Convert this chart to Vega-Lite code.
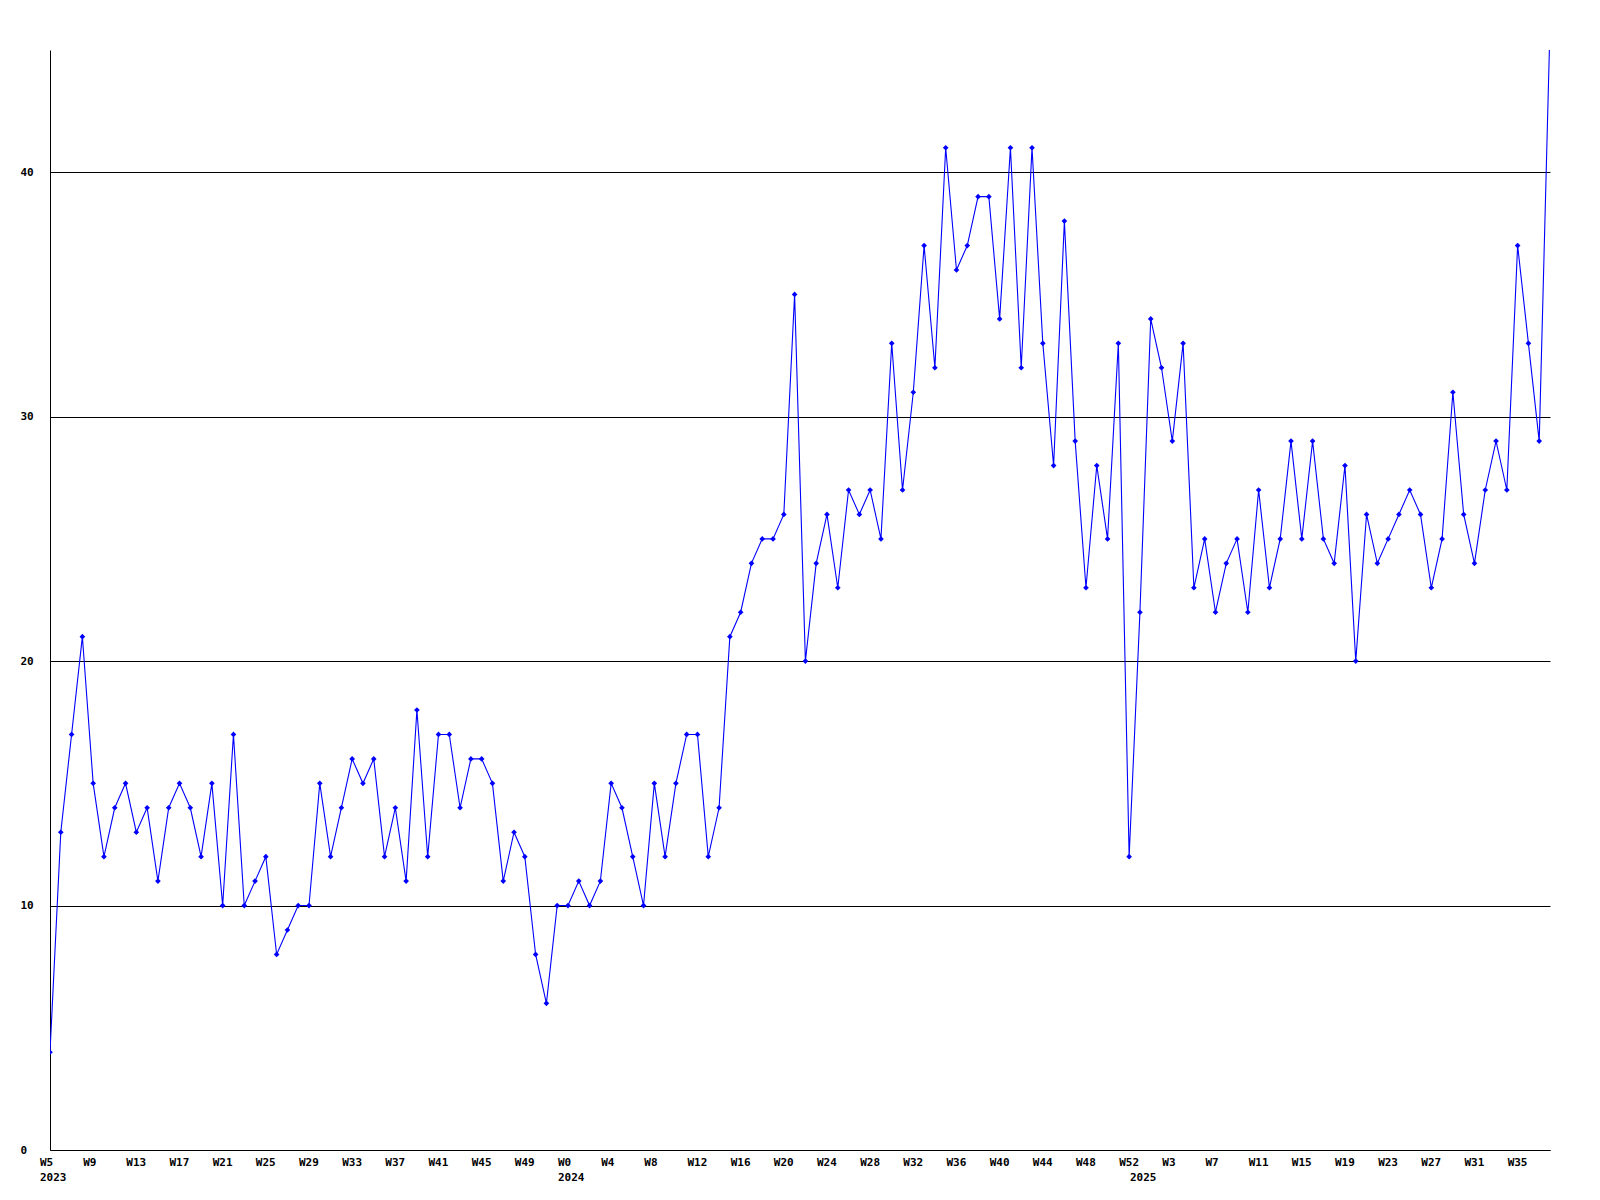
{
  "$schema": "https://vega.github.io/schema/vega-lite/v6.json",
  "width": 1500,
  "height": 1100,
  "autosize": {"type": "none"},
  "padding": {"left": 50, "top": 50, "right": 50, "bottom": 50},
  "background": "white",
  "config": {
    "view": {"stroke": null},
    "axis": {
      "labelFont": "DejaVu Sans Mono",
      "labelFontWeight": "bold",
      "labelFontSize": 11,
      "labelColor": "black",
      "domainColor": "black",
      "domainWidth": 1,
      "gridColor": "black",
      "gridOpacity": 1,
      "gridWidth": 1,
      "ticks": false,
      "tickSize": 0,
      "title": null
    }
  },
  "data": {
    "values": [
      {"week": "2023-W05", "count": 4}, {"week": "2023-W06", "count": 13}, {"week": "2023-W07", "count": 17}, {"week": "2023-W08", "count": 21},
      {"week": "2023-W09", "count": 15}, {"week": "2023-W10", "count": 12}, {"week": "2023-W11", "count": 14}, {"week": "2023-W12", "count": 15},
      {"week": "2023-W13", "count": 13}, {"week": "2023-W14", "count": 14}, {"week": "2023-W15", "count": 11}, {"week": "2023-W16", "count": 14},
      {"week": "2023-W17", "count": 15}, {"week": "2023-W18", "count": 14}, {"week": "2023-W19", "count": 12}, {"week": "2023-W20", "count": 15},
      {"week": "2023-W21", "count": 10}, {"week": "2023-W22", "count": 17}, {"week": "2023-W23", "count": 10}, {"week": "2023-W24", "count": 11},
      {"week": "2023-W25", "count": 12}, {"week": "2023-W26", "count": 8}, {"week": "2023-W27", "count": 9}, {"week": "2023-W28", "count": 10},
      {"week": "2023-W29", "count": 10}, {"week": "2023-W30", "count": 15}, {"week": "2023-W31", "count": 12}, {"week": "2023-W32", "count": 14},
      {"week": "2023-W33", "count": 16}, {"week": "2023-W34", "count": 15}, {"week": "2023-W35", "count": 16}, {"week": "2023-W36", "count": 12},
      {"week": "2023-W37", "count": 14}, {"week": "2023-W38", "count": 11}, {"week": "2023-W39", "count": 18}, {"week": "2023-W40", "count": 12},
      {"week": "2023-W41", "count": 17}, {"week": "2023-W42", "count": 17}, {"week": "2023-W43", "count": 14}, {"week": "2023-W44", "count": 16},
      {"week": "2023-W45", "count": 16}, {"week": "2023-W46", "count": 15}, {"week": "2023-W47", "count": 11}, {"week": "2023-W48", "count": 13},
      {"week": "2023-W49", "count": 12}, {"week": "2023-W50", "count": 8}, {"week": "2023-W51", "count": 6}, {"week": "2023-W52", "count": 10},
      {"week": "2024-W00", "count": 10}, {"week": "2024-W01", "count": 11}, {"week": "2024-W02", "count": 10}, {"week": "2024-W03", "count": 11},
      {"week": "2024-W04", "count": 15}, {"week": "2024-W05", "count": 14}, {"week": "2024-W06", "count": 12}, {"week": "2024-W07", "count": 10},
      {"week": "2024-W08", "count": 15}, {"week": "2024-W09", "count": 12}, {"week": "2024-W10", "count": 15}, {"week": "2024-W11", "count": 17},
      {"week": "2024-W12", "count": 17}, {"week": "2024-W13", "count": 12}, {"week": "2024-W14", "count": 14}, {"week": "2024-W15", "count": 21},
      {"week": "2024-W16", "count": 22}, {"week": "2024-W17", "count": 24}, {"week": "2024-W18", "count": 25}, {"week": "2024-W19", "count": 25},
      {"week": "2024-W20", "count": 26}, {"week": "2024-W21", "count": 35}, {"week": "2024-W22", "count": 20}, {"week": "2024-W23", "count": 24},
      {"week": "2024-W24", "count": 26}, {"week": "2024-W25", "count": 23}, {"week": "2024-W26", "count": 27}, {"week": "2024-W27", "count": 26},
      {"week": "2024-W28", "count": 27}, {"week": "2024-W29", "count": 25}, {"week": "2024-W30", "count": 33}, {"week": "2024-W31", "count": 27},
      {"week": "2024-W32", "count": 31}, {"week": "2024-W33", "count": 37}, {"week": "2024-W34", "count": 32}, {"week": "2024-W35", "count": 41},
      {"week": "2024-W36", "count": 36}, {"week": "2024-W37", "count": 37}, {"week": "2024-W38", "count": 39}, {"week": "2024-W39", "count": 39},
      {"week": "2024-W40", "count": 34}, {"week": "2024-W41", "count": 41}, {"week": "2024-W42", "count": 32}, {"week": "2024-W43", "count": 41},
      {"week": "2024-W44", "count": 33}, {"week": "2024-W45", "count": 28}, {"week": "2024-W46", "count": 38}, {"week": "2024-W47", "count": 29},
      {"week": "2024-W48", "count": 23}, {"week": "2024-W49", "count": 28}, {"week": "2024-W50", "count": 25}, {"week": "2024-W51", "count": 33},
      {"week": "2024-W52", "count": 12},
      {"week": "2025-W00", "count": 22}, {"week": "2025-W01", "count": 34}, {"week": "2025-W02", "count": 32}, {"week": "2025-W03", "count": 29},
      {"week": "2025-W04", "count": 33}, {"week": "2025-W05", "count": 23}, {"week": "2025-W06", "count": 25}, {"week": "2025-W07", "count": 22},
      {"week": "2025-W08", "count": 24}, {"week": "2025-W09", "count": 25}, {"week": "2025-W10", "count": 22}, {"week": "2025-W11", "count": 27},
      {"week": "2025-W12", "count": 23}, {"week": "2025-W13", "count": 25}, {"week": "2025-W14", "count": 29}, {"week": "2025-W15", "count": 25},
      {"week": "2025-W16", "count": 29}, {"week": "2025-W17", "count": 25}, {"week": "2025-W18", "count": 24}, {"week": "2025-W19", "count": 28},
      {"week": "2025-W20", "count": 20}, {"week": "2025-W21", "count": 26}, {"week": "2025-W22", "count": 24}, {"week": "2025-W23", "count": 25},
      {"week": "2025-W24", "count": 26}, {"week": "2025-W25", "count": 27}, {"week": "2025-W26", "count": 26}, {"week": "2025-W27", "count": 23},
      {"week": "2025-W28", "count": 25}, {"week": "2025-W29", "count": 31}, {"week": "2025-W30", "count": 26}, {"week": "2025-W31", "count": 24},
      {"week": "2025-W32", "count": 27}, {"week": "2025-W33", "count": 29}, {"week": "2025-W34", "count": 27}, {"week": "2025-W35", "count": 37},
      {"week": "2025-W36", "count": 33}, {"week": "2025-W37", "count": 29}, {"week": "2025-W38", "count": 46}
    ]
  },
  "layer": [
    {
      "mark": {"type": "line", "color": "#0000ff", "strokeWidth": 1.1, "clip": true},
      "encoding": {
        "x": {
          "field": "week", "type": "ordinal", "sort": null,
          "scale": {"type": "point", "padding": 0},
          "axis": {
            "orient": "bottom",
            "values": ["2023-W05", "2023-W09", "2023-W13", "2023-W17", "2023-W21", "2023-W25", "2023-W29", "2023-W33", "2023-W37", "2023-W41", "2023-W45", "2023-W49",
                       "2024-W00", "2024-W04", "2024-W08", "2024-W12", "2024-W16", "2024-W20", "2024-W24", "2024-W28", "2024-W32", "2024-W36", "2024-W40", "2024-W44", "2024-W48", "2024-W52",
                       "2025-W03", "2025-W07", "2025-W11", "2025-W15", "2025-W19", "2025-W23", "2025-W27", "2025-W31", "2025-W35"],
            "labelExpr": "'W' + toNumber(slice(datum.value, 6))",
            "labelAngle": 0,
            "labelAlign": "left",
            "labelBaseline": "top",
            "labelOffset": -10.5,
            "labelPadding": 6,
            "labelOverlap": false,
            "labelBound": false,
            "labelFlush": false,
            "grid": false,
            "domain": true
          }
        },
        "y": {
          "field": "count", "type": "quantitative",
          "scale": {"domain": [0, 45], "nice": false},
          "axis": {
            "values": [0, 10, 20, 30, 40],
            "grid": true,
            "domain": true,
            "labelAlign": "left",
            "labelBaseline": "middle",
            "labelPadding": 30,
            "labelOverlap": false,
            "labelBound": false,
            "labelFlush": false
          }
        }
      }
    },
    {
      "mark": {"type": "point", "shape": "diamond", "filled": true, "color": "#0000ff", "opacity": 1, "size": 32, "clip": true},
      "encoding": {
        "x": {
          "field": "week", "type": "ordinal", "sort": null,
          "scale": {"type": "point", "padding": 0},
          "axis": {
            "orient": "bottom",
            "values": ["2023-W05", "2024-W00", "2025-W00"],
            "labelExpr": "slice(datum.value, 0, 4)",
            "labelAngle": 0,
            "labelAlign": "left",
            "labelBaseline": "top",
            "labelOffset": -10.5,
            "labelPadding": 21,
            "labelOverlap": false,
            "labelBound": false,
            "labelFlush": false,
            "grid": false,
            "domain": false
          }
        },
        "y": {"field": "count", "type": "quantitative"}
      }
    }
  ],
  "resolve": {"axis": {"x": "independent"}}
}
